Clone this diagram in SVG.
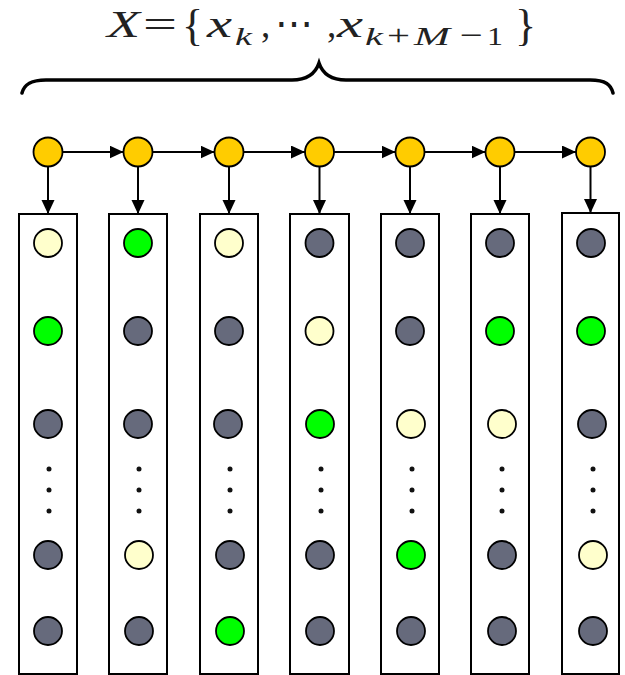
<svg xmlns="http://www.w3.org/2000/svg" width="625" height="675" viewBox="0 0 625 675">
<defs>
<style>
.top{fill:#FFCC00;stroke:#000;stroke-width:1.8}
.gy{fill:#666A7C;stroke:#000;stroke-width:1.8}
.gn{fill:#00FF00;stroke:#000;stroke-width:1.8}
.ly{fill:#FFFFCC;stroke:#000;stroke-width:1.8}
.box{fill:#fff;stroke:#000;stroke-width:2}
.dot{fill:#111}
.edge{stroke:#000;stroke-width:2;fill:none;marker-end:url(#ah)}
.m{font-family:"Liberation Serif","Times New Roman",serif;fill:#222}
.i{font-style:italic}
</style>
<marker id="ah" markerUnits="userSpaceOnUse" markerWidth="14" markerHeight="14" refX="14" refY="6.5" orient="auto">
<path d="M0,0 L14,6.5 L0,13 z" fill="#000"/>
</marker>
</defs>
<rect width="625" height="675" fill="#fff"/>
<g id="label">
<text class="m" font-size="37" y="37"><tspan class="i" x="107" textLength="33" lengthAdjust="spacingAndGlyphs">X</tspan><tspan x="143" textLength="34" lengthAdjust="spacingAndGlyphs">=</tspan><tspan x="182" font-size="44" y="40">{</tspan><tspan class="i" x="207" y="37" textLength="25" lengthAdjust="spacingAndGlyphs">x</tspan><tspan class="i" x="235" y="45" font-size="26" textLength="17" lengthAdjust="spacingAndGlyphs">k</tspan><tspan x="261" y="37">,</tspan><tspan x="275" font-family="DejaVu Serif,serif" font-size="40" textLength="38" lengthAdjust="spacingAndGlyphs">⋯</tspan><tspan x="327">,</tspan><tspan class="i" x="337" textLength="26" lengthAdjust="spacingAndGlyphs">x</tspan><tspan class="i" x="365" y="45" font-size="26" textLength="18" lengthAdjust="spacingAndGlyphs">k</tspan><tspan x="387" font-size="30" textLength="23" lengthAdjust="spacingAndGlyphs">+</tspan><tspan class="i" x="414" font-size="26" textLength="36" lengthAdjust="spacingAndGlyphs">M</tspan><tspan x="460" font-size="30" textLength="23" lengthAdjust="spacingAndGlyphs">−</tspan><tspan x="487" font-size="26" textLength="16" lengthAdjust="spacingAndGlyphs">1</tspan><tspan x="515" y="40" font-size="44">}</tspan></text>
</g>
<g id="brace">
<path d="M22,93 C24,85 30,80 46,80 L292,80 C306,80 315,75 319,63 C323,75 332,80 346,80 L590,80 C606,80 611,85 613,93" fill="none" stroke="#000" stroke-width="3.5" stroke-linecap="round"/>
</g>
<g id="connectors">
<line class="edge" x1="62.5" y1="152" x2="123.5" y2="152"/>
<line class="edge" x1="152.5" y1="152" x2="214.5" y2="152"/>
<line class="edge" x1="243.5" y1="152" x2="305" y2="152"/>
<line class="edge" x1="334" y1="152" x2="395.5" y2="152"/>
<line class="edge" x1="424.5" y1="152" x2="485.5" y2="152"/>
<line class="edge" x1="514.5" y1="152" x2="576" y2="152"/>
<line class="edge" x1="48" y1="166.5" x2="48" y2="214"/>
<line class="edge" x1="138" y1="166.5" x2="138" y2="214"/>
<line class="edge" x1="229" y1="166.5" x2="229" y2="214"/>
<line class="edge" x1="319.5" y1="166.5" x2="319.5" y2="214"/>
<line class="edge" x1="410" y1="166.5" x2="410" y2="214"/>
<line class="edge" x1="500" y1="166.5" x2="500" y2="214"/>
<line class="edge" x1="590.5" y1="166.5" x2="590.5" y2="213"/>
</g>
<g id="t1"><circle class="top" cx="48" cy="152" r="14.5"/></g>
<g id="t2"><circle class="top" cx="138" cy="152" r="14.5"/></g>
<g id="t3"><circle class="top" cx="229" cy="152" r="14.5"/></g>
<g id="t4"><circle class="top" cx="319.5" cy="152" r="14.5"/></g>
<g id="t5"><circle class="top" cx="410" cy="152" r="14.5"/></g>
<g id="t6"><circle class="top" cx="500" cy="152" r="14.5"/></g>
<g id="t7"><circle class="top" cx="590.5" cy="152" r="14.5"/></g>
<g id="col1">
<rect class="box" x="19" y="214" width="58" height="460"/>
<circle class="ly" cx="48" cy="243" r="14"/><circle class="gn" cx="48" cy="331" r="14"/><circle class="gy" cx="48" cy="424" r="14"/>
<circle class="dot" cx="49" cy="469" r="2.5"/><circle class="dot" cx="49" cy="490" r="2.5"/><circle class="dot" cx="49" cy="511" r="2.5"/>
<circle class="gy" cx="48" cy="555" r="14"/><circle class="gy" cx="48" cy="631" r="14"/>
</g>
<g id="col2">
<rect class="box" x="109" y="214" width="58" height="460"/>
<circle class="gn" cx="138" cy="243" r="14"/><circle class="gy" cx="138" cy="331" r="14"/><circle class="gy" cx="138" cy="424" r="14"/>
<circle class="dot" cx="139" cy="469" r="2.5"/><circle class="dot" cx="139" cy="490" r="2.5"/><circle class="dot" cx="139" cy="511" r="2.5"/>
<circle class="ly" cx="139" cy="555" r="14"/><circle class="gy" cx="139" cy="631" r="14"/>
</g>
<g id="col3">
<rect class="box" x="200" y="214" width="58" height="460"/>
<circle class="ly" cx="229" cy="243" r="14"/><circle class="gy" cx="229" cy="331" r="14"/><circle class="gy" cx="228" cy="424" r="14"/>
<circle class="dot" cx="230" cy="469" r="2.5"/><circle class="dot" cx="230" cy="490" r="2.5"/><circle class="dot" cx="230" cy="511" r="2.5"/>
<circle class="gy" cx="230" cy="555" r="14"/><circle class="gn" cx="230" cy="631" r="14"/>
</g>
<g id="col4">
<rect class="box" x="290" y="214" width="59" height="460"/>
<circle class="gy" cx="319.5" cy="243" r="14"/><circle class="ly" cx="319.5" cy="331" r="14"/><circle class="gn" cx="320" cy="424" r="14"/>
<circle class="dot" cx="321" cy="469" r="2.5"/><circle class="dot" cx="321" cy="490" r="2.5"/><circle class="dot" cx="321" cy="511" r="2.5"/>
<circle class="gy" cx="320" cy="555" r="14"/><circle class="gy" cx="320" cy="631" r="14"/>
</g>
<g id="col5">
<rect class="box" x="381" y="214" width="58" height="460"/>
<circle class="gy" cx="410" cy="243" r="14"/><circle class="gy" cx="410" cy="331" r="14"/><circle class="ly" cx="411" cy="424" r="14"/>
<circle class="dot" cx="412" cy="469" r="2.5"/><circle class="dot" cx="412" cy="490" r="2.5"/><circle class="dot" cx="412" cy="511" r="2.5"/>
<circle class="gn" cx="411" cy="555" r="14"/><circle class="gy" cx="411" cy="631" r="14"/>
</g>
<g id="col6">
<rect class="box" x="471" y="214" width="58" height="460"/>
<circle class="gy" cx="500" cy="243" r="14"/><circle class="gn" cx="500" cy="331" r="14"/><circle class="ly" cx="502" cy="424" r="14"/>
<circle class="dot" cx="502" cy="469" r="2.5"/><circle class="dot" cx="502" cy="490" r="2.5"/><circle class="dot" cx="502" cy="511" r="2.5"/>
<circle class="gy" cx="502" cy="555" r="14"/><circle class="gy" cx="502" cy="631" r="14"/>
</g>
<g id="col7">
<rect class="box" x="562" y="213" width="57" height="461"/>
<circle class="gy" cx="591" cy="243" r="14"/><circle class="gn" cx="591" cy="331" r="14"/><circle class="gy" cx="592" cy="424" r="14"/>
<circle class="dot" cx="593" cy="469" r="2.5"/><circle class="dot" cx="593" cy="490" r="2.5"/><circle class="dot" cx="593" cy="511" r="2.5"/>
<circle class="ly" cx="593" cy="555" r="14"/><circle class="gy" cx="593" cy="631" r="14"/>
</g>
</svg>
